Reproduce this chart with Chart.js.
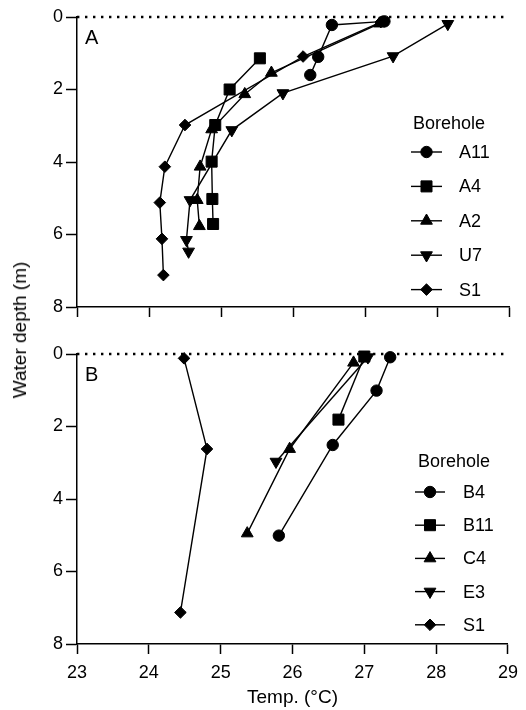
<!DOCTYPE html>
<html><head><meta charset="utf-8">
<script src="https://cdn.jsdelivr.net/npm/chart.js@4.4.0/dist/chart.umd.min.js"></script>
<style>
html,body{margin:0;padding:0;background:#fff;}
#wrap{position:relative;width:526px;height:710px;overflow:hidden;background:#fff;}
.cw{position:absolute;left:0;}
#ytitle{position:absolute;left:20px;top:330px;transform:translate(-50%,-50%) rotate(-90deg);font:19px "Liberation Sans",Arial,sans-serif;white-space:nowrap;color:#000;}
</style></head><body>
<div id="wrap">
<div class="cw" style="top:0;width:526px;height:330px"><canvas id="c1" width="526" height="330"></canvas></div>
<div class="cw" style="top:330px;width:526px;height:380px"><canvas id="c2" width="526" height="380"></canvas></div>
<div id="ytitle">Water depth (m)</div>
</div>
<script>
// ---- tick labels / axis ranges ----
const tempTicks = [23, 24, 25, 26, 27, 28, 29];
const depthTicks = [0, 2, 4, 6, 8];
const legendTitle = 'Borehole';
const xTitle = 'Temp. (°C)';

// ---- Panel A ----
const panelALabel = 'A';
const panelASeries = ['A11', 'A4', 'A2', 'U7', 'S1'];
const A11_temp  = [27.27, 26.54, 26.35, 26.24];
const A11_depth = [0.12, 0.22, 1.10, 1.60];
const A4_temp   = [25.54, 25.12, 24.92, 24.87, 24.88, 24.89];
const A4_depth  = [1.14, 2.00, 2.98, 3.99, 5.02, 5.71];
const A2_temp   = [27.20, 25.70, 25.33, 24.87, 24.71, 24.67, 24.70];
const A2_depth  = [0.18, 1.54, 2.13, 3.10, 4.13, 5.05, 5.77];
const U7_temp   = [28.15, 27.39, 25.86, 25.15, 24.57, 24.52, 24.55];
const U7_depth  = [0.19, 1.08, 2.10, 3.12, 5.05, 6.15, 6.47];
const S1a_temp  = [27.22, 26.14, 24.50, 24.22, 24.15, 24.18, 24.20];
const S1a_depth = [0.14, 1.09, 2.98, 4.13, 5.12, 6.12, 7.12];

// ---- Panel B ----
const panelBLabel = 'B';
const panelBSeries = ['B4', 'B11', 'C4', 'E3', 'S1'];
const B4_temp   = [27.36, 27.17, 26.56, 25.81];
const B4_depth  = [0.09, 1.01, 2.51, 5.01];
const B11_temp  = [27.00, 26.64];
const B11_depth = [0.07, 1.81];
const C4_temp   = [26.85, 25.96, 25.37];
const C4_depth  = [0.24, 2.62, 4.95];
const E3_temp   = [27.05, 25.77];
const E3_depth  = [0.09, 2.97];
const S1b_temp  = [24.49, 24.81, 24.44];
const S1b_depth = [0.12, 2.62, 7.13];

// ---- styling ----
const FONT = '"Liberation Sans", Arial, sans-serif';
const markers = [
  {pointStyle: 'circle', radius: 5.7, rotation: 0},
  {pointStyle: 'rect', radius: 7.8, rotation: 0},
  {pointStyle: 'triangle', radius: 6.8, rotation: 0},
  {pointStyle: 'triangle', radius: 6.8, rotation: 180},
  {pointStyle: 'rectRot', radius: 5.8, rotation: 0}
];

function pts(t, d) { return t.map((v, i) => ({x: v, y: d[i]})); }

function makeDatasets(names, temps, depths) {
  const ds = names.map((n, i) => ({
    label: n,
    data: pts(temps[i], depths[i]),
    showLine: true,
    borderColor: '#000',
    backgroundColor: '#000',
    borderWidth: 1.4,
    pointStyle: markers[i].pointStyle,
    pointRadius: markers[i].radius,
    pointRotation: markers[i].rotation,
    pointBorderWidth: 1,
    pointHoverRadius: markers[i].radius,
    clip: false
  }));
  ds.push({
    label: '_surface',
    data: [{x: tempTicks[0], y: 0}, {x: tempTicks[tempTicks.length - 1], y: 0}],
    showLine: true,
    borderColor: '#000',
    borderWidth: 2.4,
    borderDash: [2.4, 5.6],
    pointRadius: 0,
    clip: false,
    order: 10
  });
  return ds;
}

const legendPlugin = {
  id: 'boreLegend',
  afterDraw(chart, args, opts) {
    const ctx = chart.ctx;
    ctx.save();
    ctx.fillStyle = '#000';
    ctx.strokeStyle = '#000';
    ctx.font = '18px ' + FONT;
    ctx.textBaseline = 'middle';
    ctx.textAlign = 'left';
    ctx.fillText(legendTitle, opts.titleX, opts.titleY);
    // panel letter
    ctx.font = '20px ' + FONT;
    ctx.fillText(opts.panel, opts.panelX, opts.panelY);
    ctx.font = '18px ' + FONT;
    opts.names.forEach((n, i) => {
      const y = opts.y0 + i * opts.dy;
      ctx.lineWidth = 1.4;
      ctx.beginPath();
      ctx.moveTo(opts.lx0, y);
      ctx.lineTo(opts.lx1, y);
      ctx.stroke();
      ctx.lineWidth = 1;
      Chart.helpers.drawPoint(ctx, {
        pointStyle: markers[i].pointStyle,
        radius: markers[i].radius,
        rotation: markers[i].rotation,
        borderWidth: 1
      }, (opts.lx0 + opts.lx1) / 2, y);
      ctx.fillText(n, opts.tx, y + 1);
    });
    ctx.restore();
  }
};

function makeChart(id, datasets, showXLabels, xHeight, padTop, legendOpts) {
  return new Chart(document.getElementById(id), {
    type: 'scatter',
    data: {datasets},
    plugins: [legendPlugin],
    options: {
      responsive: false,
      animation: false,
      devicePixelRatio: 1,
      layout: {padding: {top: padTop, right: 17, bottom: 0, left: 0}},
      plugins: {
        legend: {display: false},
        tooltip: {enabled: false},
        boreLegend: legendOpts
      },
      scales: {
        x: {
          type: 'linear',
          min: tempTicks[0],
          max: tempTicks[tempTicks.length - 1],
          afterBuildTicks: s => { s.ticks = tempTicks.map(v => ({value: v})); },
          grid: {display: true, drawOnChartArea: false, drawTicks: true, tickLength: 10, tickWidth: 1.5, tickColor: '#000'},
          border: {display: true, color: '#000', width: 1.5},
          ticks: {display: showXLabels, color: '#000', font: {family: FONT, size: 18}, padding: 8, maxRotation: 0},
          title: {display: showXLabels, text: xTitle, color: '#000', font: {family: FONT, size: 19}, padding: {top: 2, bottom: 1}},
          afterFit: s => { s.height = xHeight; }
        },
        y: {
          type: 'linear',
          reverse: true,
          min: depthTicks[0],
          max: depthTicks[depthTicks.length - 1],
          afterBuildTicks: s => { s.ticks = depthTicks.map(v => ({value: v})); },
          grid: {display: true, drawOnChartArea: false, drawTicks: true, tickLength: 11, tickWidth: 1.5, tickColor: '#000'},
          border: {display: true, color: '#000', width: 1.5},
          ticks: {color: '#000', font: {family: FONT, size: 18}, padding: 3},
          afterFit: s => { s.width = 77; }
        }
      }
    }
  });
}

makeChart('c1',
  makeDatasets(panelASeries,
    [A11_temp, A4_temp, A2_temp, U7_temp, S1a_temp],
    [A11_depth, A4_depth, A2_depth, U7_depth, S1a_depth]),
  false, 23, 17,
  {names: panelASeries, panel: panelALabel, panelX: 85, panelY: 38,
   titleX: 413, titleY: 124, lx0: 411, lx1: 442, tx: 459, y0: 152, dy: 34.4});

makeChart('c2',
  makeDatasets(panelBSeries,
    [B4_temp, B11_temp, C4_temp, E3_temp, S1b_temp],
    [B4_depth, B11_depth, C4_depth, E3_depth, S1b_depth]),
  true, 66, 24,
  {names: panelBSeries, panel: panelBLabel, panelX: 85, panelY: 45,
   titleX: 418, titleY: 132, lx0: 415, lx1: 445, tx: 463, y0: 162, dy: 33.2});
</script>
</body></html>
